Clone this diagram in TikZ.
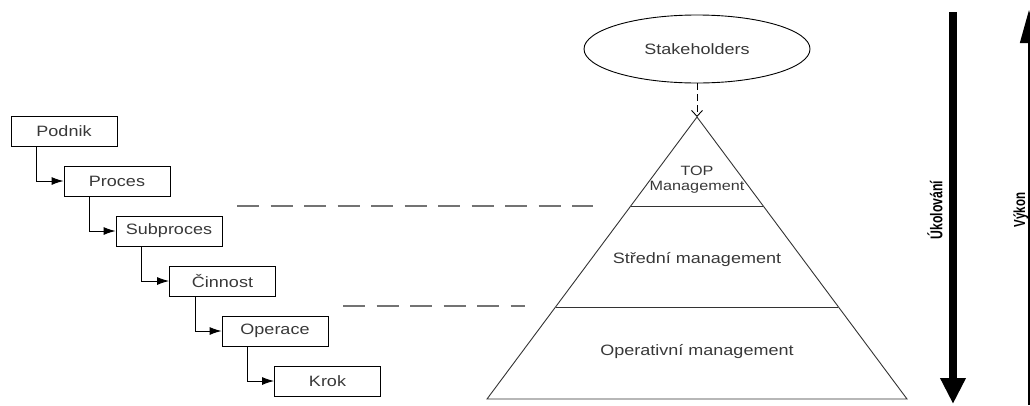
\documentclass[tikz,border=0pt]{standalone}
\usepackage{fontspec}
\setmainfont{Liberation Sans}
\newfontfamily\wideface[FakeStretch=1.2]{Liberation Sans}
\newfontfamily\narrowface[FakeStretch=0.72]{Liberation Sans}
\usetikzlibrary{arrows.meta,shapes.geometric,calc}

\begin{document}
\begin{tikzpicture}[x=1pt,y=-1pt,
  txt/.style={text=black!78, font=\wideface\fontsize{15}{17}\selectfont},
  levelbox/.style={txt, draw=black, line width=0.9pt, minimum width=106pt,
    minimum height=30pt, inner sep=0pt},
  stepline/.style={line width=0.9pt, -{Latex[length=12pt,width=8pt]}},
  guide/.style={black!55, line width=1.6pt, dash pattern=on 22pt off 11.5pt},
  layer/.style={line width=0.9pt, black!80},
  sidelabel/.style={rotate=90, font=\narrowface\bfseries\fontsize{17}{19}\selectfont}
]
\useasboundingbox (0,0) rectangle (1030,405);

% process hierarchy
\node[levelbox] (podnik)    at (64,131)    {Podnik};
\node[levelbox] (proces)    at (117,181)   {Proces};
\node[levelbox] (subproces) at (169,231)   {Subproces};
\node[levelbox] (cinnost)   at (222.5,281) {Činnost};
\node[levelbox] (operace)   at (275,331)   {Operace};
\node[levelbox] (krok)      at (327.5,381) {Krok};

\draw[stepline] ($(podnik.south west)+(26,0)$)    |- (proces.west);
\draw[stepline] ($(proces.south west)+(26,0)$)    |- (subproces.west);
\draw[stepline] ($(subproces.south west)+(26,0)$) |- (cinnost.west);
\draw[stepline] ($(cinnost.south west)+(26,0)$)   |- (operace.west);
\draw[stepline] ($(operace.south west)+(26,0)$)   |- (krok.west);

% management pyramid
\coordinate (apex) at (697,117);
\coordinate (bl) at (487,399);
\coordinate (br) at (907,399);
\coordinate (t1l) at (631,206);
\coordinate (t1r) at (763,206);
\coordinate (t2l) at (556,307);
\coordinate (t2r) at (838,307);
\draw[layer] (apex) -- (bl) -- (br) -- cycle;
\draw[layer] (t1l) -- (t1r);
\draw[layer] (t2l) -- (t2r);

\node[txt, font=\wideface\fontsize{13.5}{15}\selectfont, align=center] (top) at (697,180) {TOP\\Management};
\node[txt] (mid) at (697,260) {Střední management};
\node[txt] (ops) at (697,352) {Operativní management};

% stakeholders
\node[txt, draw=black, line width=0.9pt, ellipse, minimum width=226pt,
  minimum height=68pt, inner sep=0pt] (stake) at (697,49) {Stakeholders};
\draw[line width=0.9pt, dash pattern=on 7pt off 4pt, -{Straight Barb[length=6pt,width=11pt]}]
  (stake.south) -- (apex);

% dashed guides from the hierarchy to the pyramid layers
\coordinate (g1a) at (237,206);
\coordinate (g1b) at (593,206);
\coordinate (g2a) at (343,306);
\coordinate (g2b) at (525,306);
\draw[guide] (g1a) -- (g1b);
\draw[guide] (g2a) -- (g2b);

% direction arrows
\coordinate (ua) at (953,12);
\coordinate (ub) at (953,404);
\draw[line width=8pt, -{Triangle[length=26pt,width=24pt]}] (ua) -- (ub);
\node[sidelabel] (uk) at (935,210) {Úkolování};

\coordinate (va) at (1029,405);
\coordinate (vb) at (1029,10);
\draw[line width=1.5pt, -{Triangle[length=33pt,width=18pt]}] (va) -- (vb);
\node[sidelabel, font=\narrowface\bfseries\fontsize{16}{18}\selectfont] (vy) at (1021,210) {Výkon};
\end{tikzpicture}
\end{document}
